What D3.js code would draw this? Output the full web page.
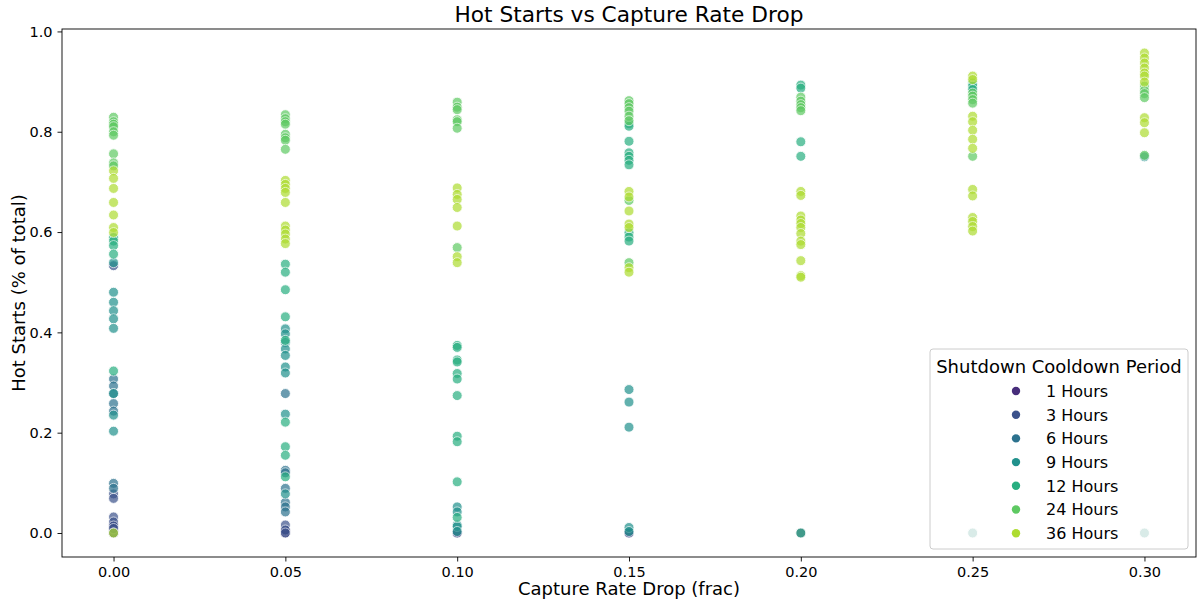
<!DOCTYPE html>
<html>
<head>
<meta charset="utf-8">
<script src="https://cdn.jsdelivr.net/npm/d3@7"></script>
<style>
  html, body { margin: 0; padding: 0; background: #fff; }
  svg { display: block; font-family: "DejaVu Sans", sans-serif; }
</style>
</head>
<body>
<svg id="chart" width="1201" height="603"></svg>
<script>
// Capture rate drop levels (x positions)
const drops = [0.00, 0.05, 0.10, 0.15, 0.20, 0.25, 0.30];
const periods = ["1 Hours", "3 Hours", "6 Hours", "9 Hours", "12 Hours", "24 Hours", "36 Hours"];

// Hot-start fractions per cooldown period, one inner list per drop level
const hot1h = [
  [0.0, 0.008, 0.015], [0.0, 0.004], [0.0], [0.0], [0.0], [0.0], [0.0]
];
const hot3h = [
  [0.533, 0.078, 0.069, 0.032, 0.022, 0.014, 0.009, 0.0],
  [0.016, 0.006, 0.0], [0.0], [0.0], [], [], []
];
const hot6h = [
  [0.307, 0.293, 0.278, 0.258, 0.243, 0.099, 0.089],
  [0.278, 0.125, 0.120, 0.089, 0.061, 0.052, 0.042],
  [], [], [], [], []
];
const hot9h = [
  [0.539, 0.480, 0.460, 0.443, 0.427, 0.408, 0.278, 0.235, 0.203],
  [0.407, 0.397, 0.380, 0.367, 0.354, 0.331, 0.319, 0.237, 0.078],
  [0.052, 0.042, 0.016, 0.013, 0.003],
  [0.286, 0.261, 0.211, 0.011, 0.003],
  [], [], [0.750]
];
const hot12h = [
  [0.589, 0.582, 0.573, 0.556, 0.323],
  [0.536, 0.520, 0.485, 0.431, 0.384, 0.221, 0.172, 0.155, 0.112],
  [0.374, 0.370, 0.345, 0.341, 0.318, 0.307, 0.274, 0.193, 0.182, 0.102, 0.031],
  [0.816, 0.811, 0.781, 0.758, 0.751, 0.743, 0.734, 0.599, 0.590, 0.582],
  [0.893, 0.887, 0.780, 0.751, 0.0],
  [0.897, 0.891, 0.884, 0.0],
  [0.0]
];
const hot24h = [
  [0.829, 0.820, 0.815, 0.810, 0.800, 0.793, 0.756, 0.738, 0.732],
  [0.834, 0.826, 0.820, 0.815, 0.795, 0.788, 0.783, 0.765],
  [0.859, 0.849, 0.844, 0.824, 0.820, 0.807, 0.569],
  [0.862, 0.856, 0.848, 0.841, 0.831, 0.822, 0.663, 0.539],
  [0.869, 0.861, 0.854, 0.848, 0.842],
  [0.877, 0.871, 0.864, 0.857, 0.751],
  [0.891, 0.882, 0.876, 0.868, 0.753]
];
const hot36h = [
  [0.722, 0.707, 0.687, 0.659, 0.634, 0.609, 0.599, 0.0],
  [0.703, 0.695, 0.687, 0.679, 0.659, 0.612, 0.604, 0.596, 0.586, 0.577],
  [0.688, 0.675, 0.665, 0.649, 0.612, 0.551, 0.539],
  [0.681, 0.670, 0.642, 0.616, 0.609, 0.529, 0.520],
  [0.681, 0.673, 0.632, 0.624, 0.617, 0.609, 0.597, 0.582, 0.575, 0.543, 0.513, 0.510],
  [0.911, 0.904, 0.831, 0.820, 0.803, 0.785, 0.767, 0.685, 0.672, 0.629, 0.621, 0.611, 0.602],
  [0.957, 0.947, 0.937, 0.927, 0.917, 0.911, 0.899, 0.828, 0.818, 0.798]
];
const seriesValues = [hot1h, hot3h, hot6h, hot9h, hot12h, hot24h, hot36h];

const xTicks = [0.00, 0.05, 0.10, 0.15, 0.20, 0.25, 0.30];
const yTicks = [0.0, 0.2, 0.4, 0.6, 0.8, 1.0];

// Flatten into point records
const points = [];
seriesValues.forEach((byDrop, si) => {
  byDrop.forEach((vals, di) => {
    vals.forEach(v => points.push({ period: periods[si], drop: drops[di], hot: v }));
  });
});

const svg = d3.select("#chart");
const box = { left: 62, right: 1196, top: 29, bottom: 557 };

function padded(ext) {
  const span = ext[1] - ext[0];
  return [ext[0] - span * 0.05, ext[1] + span * 0.05];
}
const x = d3.scaleLinear().domain(padded(d3.extent(points, d => d.drop))).range([box.left, box.right]);
const y = d3.scaleLinear().domain(padded(d3.extent(points, d => d.hot))).range([box.bottom, box.top]);

// viridis sampled at inner bins, like a 7-level categorical palette
const color = d3.scaleOrdinal()
  .domain(periods)
  .range(periods.map((p, i) => d3.interpolateViridis((i + 1) / (periods.length + 1))));

// Points
svg.append("g")
  .selectAll("circle")
  .data(points)
  .join("circle")
  .attr("cx", d => x(d.drop))
  .attr("cy", d => y(d.hot))
  .attr("r", 5)
  .attr("fill", d => color(d.period))
  .attr("stroke", "#fff")
  .attr("stroke-width", 0.9)
  .attr("opacity", 0.7);

// Axes
const xAxis = d3.axisBottom(x).tickValues(xTicks).tickFormat(d3.format(".2f")).tickSize(4.5).tickPadding(5);
const yAxis = d3.axisLeft(y).tickValues(yTicks).tickFormat(d3.format(".1f")).tickSize(4.5).tickPadding(5);

const gx = svg.append("g").attr("transform", `translate(0,${box.bottom})`).call(xAxis);
const gy = svg.append("g").attr("transform", `translate(${box.left},0)`).call(yAxis);
[gx, gy].forEach(g => {
  g.select(".domain").remove();
  g.selectAll("text").attr("font-size", 14.5).attr("fill", "#000").attr("font-family", "DejaVu Sans");
  g.selectAll("line").attr("stroke", "#000").attr("stroke-width", 0.9);
});

// Frame
svg.append("rect")
  .attr("x", box.left).attr("y", box.top)
  .attr("width", box.right - box.left).attr("height", box.bottom - box.top)
  .attr("fill", "none").attr("stroke", "#000").attr("stroke-width", 0.9);

// Title & axis labels
svg.append("text")
  .attr("x", (box.left + box.right) / 2).attr("y", 22)
  .attr("text-anchor", "middle").attr("font-size", 21.7)
  .text("Hot Starts vs Capture Rate Drop");
svg.append("text")
  .attr("x", (box.left + box.right) / 2).attr("y", 595)
  .attr("text-anchor", "middle").attr("font-size", 18)
  .text("Capture Rate Drop (frac)");
svg.append("text")
  .attr("transform", `translate(25,${(box.top + box.bottom) / 2}) rotate(-90)`)
  .attr("text-anchor", "middle").attr("font-size", 18)
  .text("Hot Starts (% of total)");

// Legend
const leg = { x: 930, y: 349, w: 258, h: 200 };
const lg = svg.append("g");
lg.append("rect")
  .attr("x", leg.x).attr("y", leg.y).attr("width", leg.w).attr("height", leg.h)
  .attr("rx", 3).attr("fill", "#fff").attr("fill-opacity", 0.8)
  .attr("stroke", "#cccccc").attr("stroke-width", 1);
lg.append("text")
  .attr("x", leg.x + leg.w / 2).attr("y", leg.y + 24)
  .attr("text-anchor", "middle").attr("font-size", 18)
  .text("Shutdown Cooldown Period");
const rowStep = 23.7;
const rows = lg.selectAll("g.row").data(periods).join("g")
  .attr("class", "row")
  .attr("transform", (d, i) => `translate(0,${leg.y + 42 + i * rowStep})`);
rows.append("circle")
  .attr("cx", 1016).attr("cy", 0).attr("r", 4.2)
  .attr("fill", d => color(d));
rows.append("text")
  .attr("x", 1046).attr("y", 5.8)
  .attr("font-size", 16)
  .text(d => d);
</script>
</body>
</html>
